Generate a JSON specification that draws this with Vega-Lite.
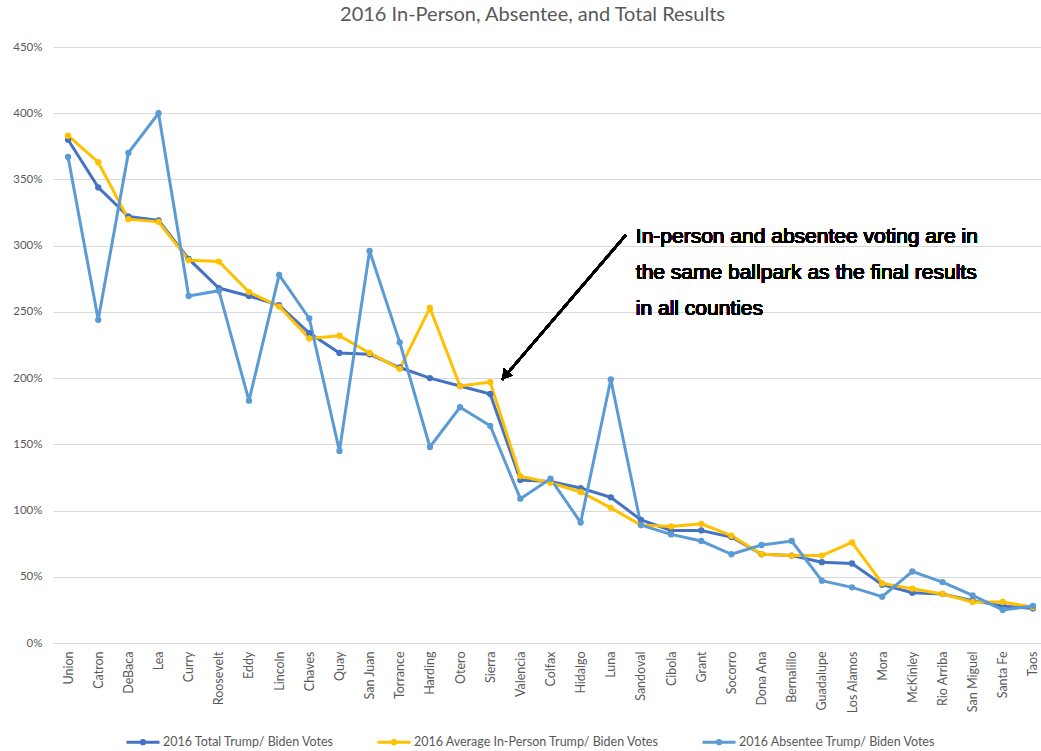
{
  "$schema": "https://vega.github.io/schema/vega-lite/v6.json",
  "autosize": {"type": "none"},
  "width": 995,
  "height": 596,
  "padding": {"left": 53, "top": 47, "right": 0, "bottom": 108},
  "background": "white",
  "title": {
    "text": "2016 In-Person, Absentee, and Total Results",
    "font": "Lato",
    "fontSize": 20,
    "fontWeight": "normal",
    "color": "#595959",
    "anchor": "middle",
    "dx": -18,
    "offset": 16
  },
  "data": {
    "values": [
      {"county": "Union", "2016 Total Trump/ Biden Votes": 3.80, "2016 Average In-Person Trump/ Biden Votes": 3.83, "2016 Absentee Trump/ Biden Votes": 3.67},
      {"county": "Catron", "2016 Total Trump/ Biden Votes": 3.44, "2016 Average In-Person Trump/ Biden Votes": 3.63, "2016 Absentee Trump/ Biden Votes": 2.44},
      {"county": "DeBaca", "2016 Total Trump/ Biden Votes": 3.22, "2016 Average In-Person Trump/ Biden Votes": 3.20, "2016 Absentee Trump/ Biden Votes": 3.70},
      {"county": "Lea", "2016 Total Trump/ Biden Votes": 3.19, "2016 Average In-Person Trump/ Biden Votes": 3.18, "2016 Absentee Trump/ Biden Votes": 4.00},
      {"county": "Curry", "2016 Total Trump/ Biden Votes": 2.90, "2016 Average In-Person Trump/ Biden Votes": 2.89, "2016 Absentee Trump/ Biden Votes": 2.62},
      {"county": "Roosevelt", "2016 Total Trump/ Biden Votes": 2.68, "2016 Average In-Person Trump/ Biden Votes": 2.88, "2016 Absentee Trump/ Biden Votes": 2.66},
      {"county": "Eddy", "2016 Total Trump/ Biden Votes": 2.62, "2016 Average In-Person Trump/ Biden Votes": 2.65, "2016 Absentee Trump/ Biden Votes": 1.83},
      {"county": "Lincoln", "2016 Total Trump/ Biden Votes": 2.55, "2016 Average In-Person Trump/ Biden Votes": 2.54, "2016 Absentee Trump/ Biden Votes": 2.78},
      {"county": "Chaves", "2016 Total Trump/ Biden Votes": 2.34, "2016 Average In-Person Trump/ Biden Votes": 2.30, "2016 Absentee Trump/ Biden Votes": 2.45},
      {"county": "Quay", "2016 Total Trump/ Biden Votes": 2.19, "2016 Average In-Person Trump/ Biden Votes": 2.32, "2016 Absentee Trump/ Biden Votes": 1.45},
      {"county": "San Juan", "2016 Total Trump/ Biden Votes": 2.18, "2016 Average In-Person Trump/ Biden Votes": 2.19, "2016 Absentee Trump/ Biden Votes": 2.96},
      {"county": "Torrance", "2016 Total Trump/ Biden Votes": 2.08, "2016 Average In-Person Trump/ Biden Votes": 2.07, "2016 Absentee Trump/ Biden Votes": 2.27},
      {"county": "Harding", "2016 Total Trump/ Biden Votes": 2.00, "2016 Average In-Person Trump/ Biden Votes": 2.53, "2016 Absentee Trump/ Biden Votes": 1.48},
      {"county": "Otero", "2016 Total Trump/ Biden Votes": 1.94, "2016 Average In-Person Trump/ Biden Votes": 1.94, "2016 Absentee Trump/ Biden Votes": 1.78},
      {"county": "Sierra", "2016 Total Trump/ Biden Votes": 1.88, "2016 Average In-Person Trump/ Biden Votes": 1.97, "2016 Absentee Trump/ Biden Votes": 1.64},
      {"county": "Valencia", "2016 Total Trump/ Biden Votes": 1.23, "2016 Average In-Person Trump/ Biden Votes": 1.26, "2016 Absentee Trump/ Biden Votes": 1.09},
      {"county": "Colfax", "2016 Total Trump/ Biden Votes": 1.22, "2016 Average In-Person Trump/ Biden Votes": 1.21, "2016 Absentee Trump/ Biden Votes": 1.24},
      {"county": "Hidalgo", "2016 Total Trump/ Biden Votes": 1.17, "2016 Average In-Person Trump/ Biden Votes": 1.14, "2016 Absentee Trump/ Biden Votes": 0.91},
      {"county": "Luna", "2016 Total Trump/ Biden Votes": 1.10, "2016 Average In-Person Trump/ Biden Votes": 1.02, "2016 Absentee Trump/ Biden Votes": 1.99},
      {"county": "Sandoval", "2016 Total Trump/ Biden Votes": 0.93, "2016 Average In-Person Trump/ Biden Votes": 0.89, "2016 Absentee Trump/ Biden Votes": 0.89},
      {"county": "Cibola", "2016 Total Trump/ Biden Votes": 0.85, "2016 Average In-Person Trump/ Biden Votes": 0.88, "2016 Absentee Trump/ Biden Votes": 0.82},
      {"county": "Grant", "2016 Total Trump/ Biden Votes": 0.85, "2016 Average In-Person Trump/ Biden Votes": 0.90, "2016 Absentee Trump/ Biden Votes": 0.77},
      {"county": "Socorro", "2016 Total Trump/ Biden Votes": 0.80, "2016 Average In-Person Trump/ Biden Votes": 0.81, "2016 Absentee Trump/ Biden Votes": 0.67},
      {"county": "Dona Ana", "2016 Total Trump/ Biden Votes": 0.67, "2016 Average In-Person Trump/ Biden Votes": 0.67, "2016 Absentee Trump/ Biden Votes": 0.74},
      {"county": "Bernalillo", "2016 Total Trump/ Biden Votes": 0.66, "2016 Average In-Person Trump/ Biden Votes": 0.66, "2016 Absentee Trump/ Biden Votes": 0.77},
      {"county": "Guadalupe", "2016 Total Trump/ Biden Votes": 0.61, "2016 Average In-Person Trump/ Biden Votes": 0.66, "2016 Absentee Trump/ Biden Votes": 0.47},
      {"county": "Los Alamos", "2016 Total Trump/ Biden Votes": 0.60, "2016 Average In-Person Trump/ Biden Votes": 0.76, "2016 Absentee Trump/ Biden Votes": 0.42},
      {"county": "Mora", "2016 Total Trump/ Biden Votes": 0.44, "2016 Average In-Person Trump/ Biden Votes": 0.45, "2016 Absentee Trump/ Biden Votes": 0.35},
      {"county": "McKinley", "2016 Total Trump/ Biden Votes": 0.38, "2016 Average In-Person Trump/ Biden Votes": 0.41, "2016 Absentee Trump/ Biden Votes": 0.54},
      {"county": "Rio Arriba", "2016 Total Trump/ Biden Votes": 0.37, "2016 Average In-Person Trump/ Biden Votes": 0.37, "2016 Absentee Trump/ Biden Votes": 0.46},
      {"county": "San Miguel", "2016 Total Trump/ Biden Votes": 0.32, "2016 Average In-Person Trump/ Biden Votes": 0.31, "2016 Absentee Trump/ Biden Votes": 0.36},
      {"county": "Santa Fe", "2016 Total Trump/ Biden Votes": 0.28, "2016 Average In-Person Trump/ Biden Votes": 0.31, "2016 Absentee Trump/ Biden Votes": 0.25},
      {"county": "Taos", "2016 Total Trump/ Biden Votes": 0.26, "2016 Average In-Person Trump/ Biden Votes": 0.27, "2016 Absentee Trump/ Biden Votes": 0.28}
    ]
  },
  "encoding": {
    "x": {
      "field": "county",
      "type": "ordinal",
      "sort": null,
      "scale": {"type": "point", "padding": 0.5},
      "axis": {
        "title": null,
        "labelAngle": -90,
        "labelFont": "Lato",
        "labelFontSize": 12.5,
        "labelColor": "#595959",
        "labelPadding": 8,
        "ticks": false,
        "domain": true,
        "domainColor": "#D9D9D9",
        "grid": false
      }
    },
    "y": {
      "type": "quantitative",
      "scale": {"domain": [0, 4.5], "nice": false},
      "axis": {
        "title": null,
        "format": ".0%",
        "values": [0, 0.5, 1, 1.5, 2, 2.5, 3, 3.5, 4, 4.5],
        "labelFont": "Lato",
        "labelFontSize": 11.5,
        "labelColor": "#595959",
        "labelPadding": 11,
        "ticks": false,
        "domain": false,
        "grid": true,
        "gridColor": "#D9D9D9",
        "gridWidth": 1
      }
    }
  },
  "layer": [
    {
      "transform": [
        {"fold": ["2016 Total Trump/ Biden Votes", "2016 Average In-Person Trump/ Biden Votes", "2016 Absentee Trump/ Biden Votes"], "as": ["series", "value"]}
      ],
      "mark": {"type": "line", "strokeWidth": 3, "point": {"filled": true, "size": 40}},
      "encoding": {
        "y": {"field": "value", "type": "quantitative"},
        "color": {
          "field": "series",
          "type": "nominal",
          "sort": null,
          "scale": {
            "domain": ["2016 Total Trump/ Biden Votes", "2016 Average In-Person Trump/ Biden Votes", "2016 Absentee Trump/ Biden Votes"],
            "range": ["#4472C4", "#FFC000", "#5B9BD5"]
          },
          "legend": {
            "title": null,
            "orient": "none",
            "direction": "horizontal",
            "legendX": 72,
            "legendY": 677,
            "columns": 3,
            "columnPadding": 36,
            "symbolType": "M-1,0L1,0M-0.1,0A0.1,0.1,0,1,1,0.1,0A0.1,0.1,0,1,1,-0.1,0",
            "symbolSize": 1089,
            "symbolStrokeWidth": 3,
            "labelOffset": 2,
            "labelLimit": 0,
            "labelFont": "Lato",
            "labelFontSize": 12.5,
            "labelColor": "#595959"
          }
        }
      }
    },
    {
      "mark": {
        "type": "text",
        "align": "left",
        "baseline": "alphabetic",
        "font": "Liberation Sans",
        "fontSize": 21,
        "fill": "#000000",
        "strokeWidth": 0,
        "lineBreak": "\n",
        "lineHeight": 36,
        "dx": 25
      },
      "encoding": {
        "x": {"datum": "Luna"},
        "y": {"datum": 3.02},
        "text": {"value": "In-person and absentee voting are in\nthe same ballpark as the final results\nin all counties"}
      }
    },
    {
      "mark": {"type": "rule", "color": "#000000", "strokeWidth": 2.2, "xOffset": 15, "x2Offset": 12},
      "encoding": {
        "x": {"datum": "Luna"},
        "x2": {"datum": "Sierra"},
        "y": {"datum": 3.08},
        "y2": {"datum": 1.99}
      }
    },
    {
      "mark": {"type": "point", "shape": "triangle", "filled": true, "color": "#000000", "opacity": 1, "size": 130, "angle": 220, "xOffset": 16, "yOffset": -5},
      "encoding": {
        "x": {"datum": "Sierra"},
        "y": {"datum": 1.99}
      }
    }
  ],
  "config": {
    "view": {"stroke": null}
  }
}
